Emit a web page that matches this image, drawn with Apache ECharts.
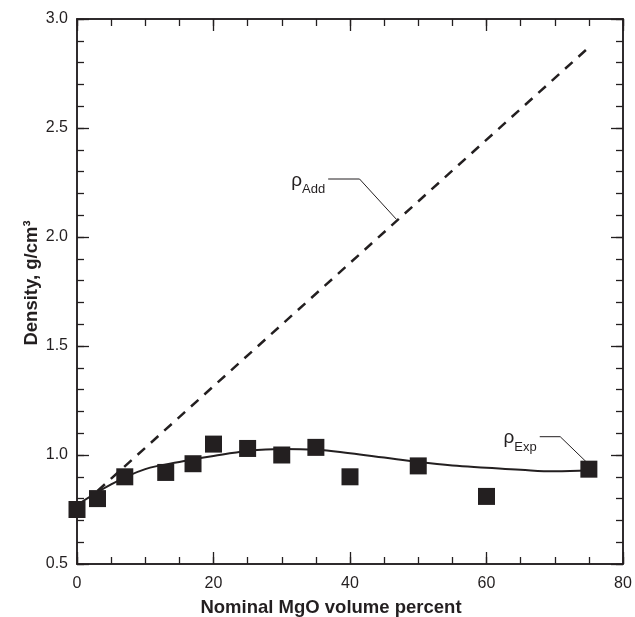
<!DOCTYPE html>
<html>
<head>
<meta charset="utf-8">
<script src="https://cdn.jsdelivr.net/npm/echarts@6/dist/echarts.min.js"></script>
<style>
  html, body { margin: 0; padding: 0; background: #fff; }
  #chart { width: 635px; height: 617px; }
</style>
</head>
<body>
<div id="chart"></div>
<script>
// measured points (nominal MgO vol %, density)
var volPct = [0, 3, 7, 13, 17, 20, 25, 30, 35, 40, 50, 60, 75];
var densExp = [0.75, 0.80, 0.90, 0.92, 0.96, 1.05, 1.03, 1.00, 1.035, 0.90, 0.95, 0.81, 0.935];

// fitted curve
var fitX = [0, 5, 10, 15, 20, 25, 30, 35, 40, 45, 50, 55, 60, 65, 70, 75];
var fitY = [0.77, 0.865, 0.935, 0.968, 0.995, 1.018, 1.027, 1.024, 1.008, 0.988, 0.968, 0.952, 0.942, 0.932, 0.925, 0.93];

// additive density line
var addX = [3, 75];
var addY = [0.835, 2.87];

// label leaders
var addLeaderX = [36.8, 41.4, 46.8];
var addLeaderY = [2.266, 2.266, 2.081];
var expLeaderX = [67.8, 70.8, 74.6];
var expLeaderY = [1.084, 1.084, 0.969];

var ink = '#231f20';
var font = 'Liberation Sans';

function pairs(xs, ys) {
  return xs.map(function(x, i) { return [x, ys[i]]; });
}

function leader(xs, ys, sub) {
  var d = pairs(xs, ys);
  d[0] = {
    value: d[0],
    label: {
      show: true, position: 'left', distance: 3,
      formatter: '{r|ρ}{s|' + sub + '}',
      rich: {
        r: { fontSize: 19, color: ink, fontFamily: font, verticalAlign: 'bottom', lineHeight: 22 },
        s: { fontSize: 13, color: ink, fontFamily: font, verticalAlign: 'bottom', padding: [0, 0, -6, 0], lineHeight: 22 }
      }
    }
  };
  return d;
}

// one axis per tick size and side, stacked on the same edge
function axis(pos, min, max, step, len, extra) {
  var a = {
    type: 'value', min: min, max: max, interval: step, position: pos,
    axisLine: { show: true, onZero: false, lineStyle: { color: ink, width: 1.5 } },
    axisTick: { show: true, inside: true, length: len, lineStyle: { color: ink, width: 1.3 } },
    axisLabel: { show: false },
    splitLine: { show: false }
  };
  return Object.assign(a, extra || {});
}

var chart = echarts.init(document.getElementById('chart'), null, { renderer: 'canvas' });
chart.setOption({
  animation: false,
  grid: { left: 77, right: 12, top: 19, bottom: 53, outerBoundsMode: 'none' },
  xAxis: [
    axis('bottom', 0, 80, 20, 12, {
      name: 'Nominal MgO volume percent', nameLocation: 'middle', nameGap: 34, nameMoveOverlap: false,
      nameTextStyle: { fontSize: 18.5, fontWeight: 'bold', color: ink, fontFamily: font, padding: [0, 38, 0, 0] },
      axisLabel: { show: true, fontSize: 16, color: ink, margin: 12, fontFamily: font }
    }),
    axis('bottom', 0, 80, 5, 7),
    axis('top', 0, 80, 20, 12),
    axis('top', 0, 80, 5, 7)
  ],
  yAxis: [
    axis('left', 0.5, 3.0, 0.5, 12, {
      name: 'Density, g/cm³', nameLocation: 'middle', nameGap: 36, nameMoveOverlap: false,
      nameTextStyle: { fontSize: 18.5, fontWeight: 'bold', color: ink, fontFamily: font, padding: [0, 0, 0, 17] },
      axisLabel: { show: true, fontSize: 16, color: ink, margin: 9, fontFamily: font,
        formatter: function(v) { return v.toFixed(1); } }
    }),
    axis('left', 0.5, 3.0, 0.1, 7),
    axis('right', 0.5, 3.0, 0.5, 12),
    axis('right', 0.5, 3.0, 0.1, 7)
  ],
  series: [
    {
      name: 'Add', type: 'line', data: pairs(addX, addY), showSymbol: false,
      lineStyle: { color: ink, width: 2.5, type: [10, 8] }, z: 2
    },
    {
      name: 'Fit', type: 'line', data: pairs(fitX, fitY), smooth: 0.4, showSymbol: false,
      lineStyle: { color: ink, width: 2 }, z: 3
    },
    {
      name: 'Exp', type: 'scatter', data: pairs(volPct, densExp), symbol: 'rect', symbolSize: 17,
      itemStyle: { color: ink, opacity: 1 }, z: 4
    },
    {
      name: 'AddLeader', type: 'line', data: leader(addLeaderX, addLeaderY, 'Add'),
      symbol: 'circle', symbolSize: 0, showSymbol: true,
      lineStyle: { color: ink, width: 1 }, z: 5
    },
    {
      name: 'ExpLeader', type: 'line', data: leader(expLeaderX, expLeaderY, 'Exp'),
      symbol: 'circle', symbolSize: 0, showSymbol: true,
      lineStyle: { color: ink, width: 1 }, z: 5
    }
  ]
});
</script>
</body>
</html>
